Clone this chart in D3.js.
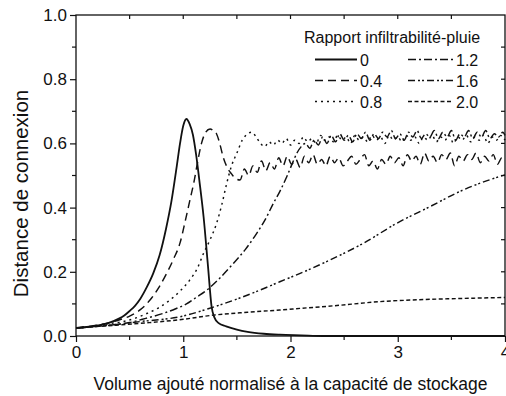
<!DOCTYPE html>
<html>
<head>
<meta charset="utf-8">
<script src="https://cdn.jsdelivr.net/npm/d3@7"></script>
<style>
  html, body { margin: 0; padding: 0; background: #fff; }
  svg text { font-family: "Liberation Sans", Arial, sans-serif; fill: #111; }
</style>
</head>
<body>
<div id="chart"></div>
<script>
// legend labels (rapport infiltrabilité-pluie)
const ratios = ['0', '0.4', '0.8', '1.2', '1.6', '2.0'];
const xTicks = [0, 1, 2, 3, 4];
const yTicks = [0.0, 0.2, 0.4, 0.6, 0.8, 1.0];

// courbes : [volume normalisé, distance de connexion]
const serie0 = [[0, 0.025], [0.1, 0.028], [0.2, 0.033], [0.3, 0.04], [0.4, 0.054], [0.45, 0.064], [0.5, 0.078], [0.55, 0.094], [0.6, 0.116], [0.66, 0.152], [0.72, 0.195], [0.78, 0.252], [0.84, 0.335], [0.89, 0.42], [0.94, 0.53], [0.97, 0.6], [1.0, 0.655], [1.03, 0.676], [1.06, 0.66], [1.09, 0.627], [1.12, 0.565], [1.15, 0.485], [1.19, 0.37], [1.23, 0.22], [1.265, 0.09], [1.29, 0.058], [1.33, 0.04], [1.4, 0.03], [1.5, 0.02], [1.6, 0.013], [1.75, 0.007], [1.9, 0.004], [2.1, 0.002], [2.3, 0.0], [4, 0]];
const serie04 = [[0, 0.025], [0.1, 0.029], [0.2, 0.034], [0.3, 0.041], [0.4, 0.05], [0.5, 0.062], [0.6, 0.082], [0.69, 0.112], [0.77, 0.15], [0.845, 0.195], [0.91, 0.24], [0.97, 0.29], [1.02, 0.36], [1.06, 0.42], [1.1, 0.48], [1.13, 0.535], [1.17, 0.6], [1.21, 0.635], [1.25, 0.645], [1.28, 0.64], [1.31, 0.63], [1.34, 0.6], [1.37, 0.56], [1.41, 0.525], [1.45, 0.505], [1.49, 0.49], [1.53, 0.486], [1.57, 0.52], [1.61, 0.5], [1.65, 0.53], [1.69, 0.51], [1.73, 0.545], [1.77, 0.515], [1.81, 0.54], [1.85, 0.52], [1.89, 0.555], [1.93, 0.53], [1.97, 0.56], [2.01, 0.535], [2.05, 0.55], [2.09, 0.525], [2.13, 0.56], [2.17, 0.54], [2.21, 0.565], [2.25, 0.535], [2.29, 0.55], [2.33, 0.53], [2.37, 0.56], [2.41, 0.54], [2.45, 0.555], [2.49, 0.53], [2.53, 0.545], [2.57, 0.56], [2.61, 0.535], [2.65, 0.55], [2.69, 0.565], [2.73, 0.53], [2.77, 0.545], [2.81, 0.52], [2.85, 0.55], [2.89, 0.535], [2.93, 0.56], [2.97, 0.54], [3.01, 0.555], [3.05, 0.53], [3.09, 0.565], [3.13, 0.545], [3.17, 0.56], [3.21, 0.535], [3.25, 0.57], [3.29, 0.545], [3.33, 0.56], [3.37, 0.54], [3.41, 0.565], [3.45, 0.55], [3.49, 0.57], [3.53, 0.53], [3.57, 0.56], [3.61, 0.545], [3.65, 0.565], [3.69, 0.55], [3.73, 0.57], [3.77, 0.54], [3.81, 0.56], [3.85, 0.545], [3.89, 0.565], [3.93, 0.535], [3.97, 0.555], [4.0, 0.545]];
const serie08 = [[0, 0.025], [0.15, 0.03], [0.3, 0.038], [0.44, 0.045], [0.55, 0.055], [0.66, 0.07], [0.77, 0.088], [0.876, 0.112], [0.97, 0.14], [1.06, 0.174], [1.13, 0.21], [1.19, 0.258], [1.25, 0.3], [1.31, 0.35], [1.36, 0.41], [1.405, 0.475], [1.45, 0.53], [1.5, 0.57], [1.55, 0.61], [1.6, 0.63], [1.64, 0.635], [1.68, 0.62], [1.72, 0.6], [1.76, 0.59], [1.8, 0.605], [1.84, 0.595], [1.88, 0.61], [1.92, 0.6], [1.96, 0.615], [2.0, 0.595], [2.04, 0.61], [2.08, 0.6], [2.12, 0.62], [2.16, 0.605], [2.2, 0.615], [2.24, 0.6], [2.28, 0.625], [2.32, 0.61], [2.36, 0.62], [2.4, 0.605], [2.44, 0.625], [2.48, 0.61], [2.52, 0.62], [2.56, 0.6], [2.6, 0.625], [2.64, 0.61], [2.68, 0.62], [2.72, 0.605], [2.76, 0.625], [2.8, 0.61], [2.84, 0.62], [2.88, 0.6], [2.92, 0.625], [2.96, 0.61], [3.0, 0.62], [3.04, 0.605], [3.08, 0.625], [3.12, 0.61], [3.16, 0.62], [3.2, 0.6], [3.24, 0.62], [3.28, 0.61], [3.32, 0.625], [3.36, 0.605], [3.4, 0.62], [3.44, 0.61], [3.48, 0.625], [3.52, 0.6], [3.56, 0.62], [3.6, 0.61], [3.64, 0.625], [3.68, 0.605], [3.72, 0.62], [3.76, 0.61], [3.8, 0.625], [3.84, 0.6], [3.88, 0.62], [3.92, 0.61], [3.96, 0.625], [4.0, 0.61]];
const serie12 = [[0, 0.025], [0.2, 0.03], [0.35, 0.035], [0.5, 0.042], [0.65, 0.055], [0.81, 0.07], [0.93, 0.085], [1.03, 0.1], [1.12, 0.12], [1.22, 0.143], [1.34, 0.18], [1.467, 0.226], [1.58, 0.27], [1.685, 0.32], [1.76, 0.36], [1.84, 0.413], [1.9, 0.45], [1.965, 0.496], [2.02, 0.54], [2.06, 0.57], [2.1, 0.59], [2.14, 0.6], [2.18, 0.585], [2.22, 0.61], [2.26, 0.595], [2.3, 0.62], [2.34, 0.6], [2.38, 0.625], [2.42, 0.605], [2.46, 0.63], [2.5, 0.61], [2.54, 0.625], [2.58, 0.605], [2.62, 0.63], [2.66, 0.615], [2.7, 0.635], [2.74, 0.61], [2.78, 0.63], [2.82, 0.615], [2.86, 0.635], [2.9, 0.62], [2.94, 0.64], [2.98, 0.615], [3.02, 0.63], [3.06, 0.61], [3.1, 0.635], [3.14, 0.62], [3.18, 0.64], [3.22, 0.615], [3.26, 0.63], [3.3, 0.62], [3.34, 0.64], [3.38, 0.615], [3.42, 0.635], [3.46, 0.62], [3.5, 0.64], [3.54, 0.61], [3.58, 0.63], [3.62, 0.62], [3.66, 0.64], [3.7, 0.615], [3.74, 0.635], [3.78, 0.62], [3.82, 0.64], [3.86, 0.615], [3.9, 0.63], [3.94, 0.62], [3.98, 0.635], [4.0, 0.625]];
const serie16 = [[0, 0.025], [0.3, 0.033], [0.6, 0.045], [0.97, 0.06], [1.28, 0.09], [1.5, 0.115], [1.78, 0.152], [1.9, 0.169], [2.09, 0.195], [2.37, 0.237], [2.68, 0.289], [2.99, 0.351], [3.3, 0.403], [3.61, 0.455], [3.8, 0.48], [4.0, 0.502]];
const serie20 = [[0, 0.025], [0.3, 0.032], [0.66, 0.041], [1.0, 0.052], [1.28, 0.065], [1.6, 0.074], [1.9, 0.081], [2.09, 0.086], [2.4, 0.094], [2.83, 0.107], [3.2, 0.113], [3.6, 0.117], [4.0, 0.12]];

const seriesData = [serie0, serie04, serie08, serie12, serie16, serie20];
// style de trait de chaque courbe
const dashes = [null, '8,5', '2,4', '8,3,2,3', '7,3,2,2,2,3', '4,2.5'];

const width = 506, height = 396;
const margin = { top: 15, right: 1, bottom: 60, left: 76 };

const svg = d3.select('#chart').append('svg')
  .attr('width', width)
  .attr('height', height);

const x = d3.scaleLinear().domain([0, 4]).range([margin.left, width - margin.right]);
const y = d3.scaleLinear().domain([0, 1]).range([height - margin.bottom, margin.top]);

const x0 = x(0), x1 = x(4), y0 = y(0), y1 = y(1);

// cadre
svg.append('rect')
  .attr('x', x0).attr('y', y1)
  .attr('width', x1 - x0).attr('height', y0 - y1)
  .attr('fill', 'none').attr('stroke', '#111').attr('stroke-width', 1.3);

// axe bas : graduations principales et secondaires
const xMinor = d3.range(0.5, 4, 1);
const bottom = svg.append('g').attr('transform', 'translate(0,' + y0 + ')');
bottom.call(d3.axisBottom(x).tickValues(xTicks).tickFormat(d3.format('d')).tickSize(6).tickPadding(4));
bottom.append('g').selectAll('line').data(xMinor).enter().append('line')
  .attr('x1', d => x(d)).attr('x2', d => x(d)).attr('y1', 0).attr('y2', 4);

// axe gauche
const yMinor = d3.range(0.1, 1, 0.2);
const left = svg.append('g').attr('transform', 'translate(' + x0 + ',0)');
left.call(d3.axisLeft(y).tickValues(yTicks).tickFormat(d3.format('.1f')).tickSize(6).tickPadding(3));
left.append('g').selectAll('line').data(yMinor).enter().append('line')
  .attr('x1', -4).attr('x2', 0).attr('y1', d => y(d)).attr('y2', d => y(d));

// graduations haut et droite (vers l'intérieur)
svg.append('g').selectAll('line').data(xMinor.concat(xTicks.slice(1, -1))).enter().append('line')
  .attr('x1', d => x(d)).attr('x2', d => x(d)).attr('y1', y1).attr('y2', y1 + 4);
svg.append('g').selectAll('line').data(yMinor.concat(yTicks.slice(1, -1))).enter().append('line')
  .attr('x1', x1 - 4).attr('x2', x1).attr('y1', d => y(d)).attr('y2', d => y(d));

svg.selectAll('.domain').remove();
svg.selectAll('line').attr('stroke', '#111').attr('stroke-width', 1.2);
svg.selectAll('.tick text').style('font-size', '17px').attr('fill', '#111');

// courbes
const line = d3.line().x(d => x(d[0])).y(d => y(d[1])).curve(d3.curveMonotoneX);
svg.append('g').selectAll('path').data(seriesData).enter().append('path')
  .attr('d', d => line(d))
  .attr('fill', 'none')
  .attr('stroke', '#111')
  .attr('stroke-width', (d, i) => i === 0 ? 1.8 : 1.45)
  .attr('stroke-dasharray', (d, i) => dashes[i]);

// titres des axes
svg.append('text')
  .attr('x', (x0 + x1) / 2).attr('y', 390)
  .attr('text-anchor', 'middle')
  .style('font-size', '17.5px')
  .text('Volume ajouté normalisé à la capacité de stockage');

svg.append('text')
  .attr('transform', 'translate(28,' + ((y0 + y1) / 2 + 18) + ') rotate(-90)')
  .attr('text-anchor', 'middle')
  .style('font-size', '20.5px')
  .text('Distance de connexion');

// légende
const legend = svg.append('g');
legend.append('text')
  .attr('x', 304).attr('y', 43)
  .style('font-size', '16px')
  .text('Rapport infiltrabilité-pluie');

const legendItems = legend.selectAll('g.item').data(ratios).enter().append('g')
  .attr('class', 'item')
  .attr('transform', (d, i) => 'translate(' + (i < 3 ? 315 : 408) + ',' + (59.5 + (i % 3) * 21) + ')');

legendItems.append('line')
  .attr('x1', 0).attr('x2', (d, i) => i < 3 ? 42 : 45)
  .attr('y1', 0).attr('y2', 0)
  .attr('stroke', '#111')
  .attr('stroke-width', (d, i) => i === 0 ? 1.8 : 1.45)
  .attr('stroke-dasharray', (d, i) => dashes[i]);

legendItems.append('text')
  .attr('x', (d, i) => i < 3 ? 45 : 48)
  .attr('y', 6)
  .style('font-size', '16px')
  .text(d => d);
</script>
</body>
</html>
